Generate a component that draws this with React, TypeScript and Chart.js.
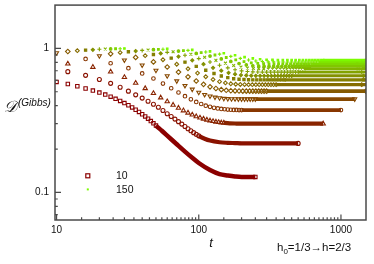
import React, { useEffect, useRef } from "react";
import { Chart, registerables } from "chart.js";
Chart.register(...registerables);

// scaled time u = t / L (sampling grid of every series)
const uGrid = [0.2,0.4,0.6,0.8,1.0,1.2,1.4,1.6,1.8,2.0,2.2,2.4,2.6,2.8,3.0,3.2,3.4,3.6,3.8,4.0,4.2,4.4,4.6,4.8,5.0,5.5,6,7,8,9,10,12,14,16,18,20,22.5,25];
const sizes = [10,20,30,40,50,60,70,80,90,100,110,120,130,140,150];

const d10 = [null,null,null,null,0.585,0.566,0.546,0.527,0.51,0.494,0.478,0.462,0.447,0.432,0.417,0.403,0.389,0.375,0.362,0.349,0.337,0.325,0.313,0.302,0.291,0.268,0.248,0.216,0.192,0.174,0.16,0.143,0.134,0.131,0.129,0.128,0.128,0.128];
const d20 = [null,null,0.69,0.65,0.608,0.572,0.537,0.505,0.476,0.452,0.43,0.41,0.39,0.371,0.352,0.337,0.323,0.31,0.298,0.287,0.277,0.268,0.26,0.253,0.247,0.236,0.229,0.223,0.221,0.22,0.219,0.219,0.219,0.219,0.219,0.219,0.219,0.219];
const d30 = [null,0.783,0.742,0.688,0.63,0.575,0.528,0.488,0.455,0.428,0.405,0.386,0.37,0.357,0.346,0.337,0.33,0.324,0.319,0.315,0.312,0.309,0.307,0.305,0.304,0.302,0.301,0.3,0.3,0.3,0.3,0.3,0.3,0.3,0.3,0.3,0.3,0.3];
const d40 = [null,0.845,0.789,0.729,0.671,0.618,0.57,0.529,0.494,0.466,0.443,0.425,0.411,0.4,0.393,0.387,0.383,0.38,0.378,0.376,0.375,0.374,0.374,0.373,0.373,0.373,0.373,0.373,0.373,0.373,0.373,0.373,0.373,0.373,0.373,0.373,0.373,0.373];
const d50 = [0.931,0.888,0.83,0.766,0.703,0.644,0.594,0.552,0.52,0.495,0.478,0.466,0.458,0.453,0.449,0.447,0.446,0.446,0.445,0.445,0.445,0.445,0.445,0.445,0.445,0.445,0.445,0.445,0.445,0.445,0.445,0.445,0.445,0.445,0.445,0.445,0.445,0.445];
const d60 = [0.952,0.917,0.866,0.806,0.743,0.685,0.635,0.594,0.563,0.541,0.527,0.517,0.512,0.508,0.507,0.506,0.505,0.505,0.505,0.505,0.505,0.505,0.505,0.505,0.505,0.505,0.505,0.505,0.505,0.505,0.505,0.505,0.505,0.505,0.505,0.505,0.505,0.505];
const d70 = [0.965,0.936,0.891,0.835,0.777,0.722,0.674,0.636,0.608,0.588,0.576,0.568,0.564,0.562,0.561,0.56,0.56,0.56,0.56,0.56,0.56,0.56,0.56,0.56,0.56,0.56,0.56,0.56,0.56,0.56,0.56,0.56,0.56,0.56,0.56,0.56,0.56,0.56];
const d80 = [0.973,0.948,0.908,0.857,0.803,0.75,0.705,0.67,0.644,0.627,0.616,0.611,0.608,0.606,0.605,0.605,0.605,0.605,0.605,0.605,0.605,0.605,0.605,0.605,0.605,0.605,0.605,0.605,0.605,0.605,0.605,0.605,0.605,0.605,0.605,0.605,0.605,0.605];
const d90 = [0.979,0.959,0.924,0.878,0.827,0.777,0.734,0.701,0.677,0.662,0.653,0.649,0.647,0.646,0.645,0.645,0.645,0.645,0.645,0.645,0.645,0.645,0.645,0.645,0.645,0.645,0.645,0.645,0.645,0.645,0.645,0.645,0.645,0.645,0.645,0.645,0.645,0.645];
const d100 = [0.986,0.969,0.939,0.897,0.85,0.804,0.764,0.733,0.711,0.698,0.691,0.687,0.686,0.685,0.685,0.685,0.685,0.685,0.685,0.685,0.685,0.685,0.685,0.685,0.685,0.685,0.685,0.685,0.685,0.685,0.685,0.685,0.685,0.685,0.685,0.685,0.685,0.685];
const d110 = [0.99,0.976,0.949,0.912,0.869,0.826,0.79,0.761,0.742,0.731,0.725,0.722,0.721,0.72,0.72,0.72,0.72,0.72,0.72,0.72,0.72,0.72,0.72,0.72,0.72,0.72,0.72,0.72,0.72,0.72,0.72,0.72,0.72,0.72,0.72,0.72,0.72,0.72];
const d120 = [0.992,0.981,0.958,0.924,0.885,0.846,0.812,0.786,0.768,0.758,0.753,0.751,0.75,0.75,0.75,0.75,0.75,0.75,0.75,0.75,0.75,0.75,0.75,0.75,0.75,0.75,0.75,0.75,0.75,0.75,0.75,0.75,0.75,0.75,0.75,0.75,0.75,0.75];
const d130 = [0.995,0.985,0.965,0.935,0.9,0.865,0.834,0.811,0.795,0.787,0.783,0.781,0.78,0.78,0.78,0.78,0.78,0.78,0.78,0.78,0.78,0.78,0.78,0.78,0.78,0.78,0.78,0.78,0.78,0.78,0.78,0.78,0.78,0.78,0.78,0.78,0.78,0.78];
const d140 = [0.996,0.988,0.97,0.944,0.913,0.881,0.853,0.832,0.818,0.811,0.807,0.806,0.805,0.805,0.805,0.805,0.805,0.805,0.805,0.805,0.805,0.805,0.805,0.805,0.805,0.805,0.805,0.805,0.805,0.805,0.805,0.805,0.805,0.805,0.805,0.805,0.805,0.805];
const d150 = [0.999,0.992,0.977,0.954,0.926,0.897,0.871,0.853,0.841,0.834,0.832,0.83,0.83,0.83,0.83,0.83,0.83,0.83,0.83,0.83,0.83,0.83,0.83,0.83,0.83,0.83,0.83,0.83,0.83,0.83,0.83,0.83,0.83,0.83,0.83,0.83,0.83,0.83];
const series = [d10,d20,d30,d40,d50,d60,d70,d80,d90,d100,d110,d120,d130,d140,d150];

const xMajor = [10, 100, 1000];
const xMajorLabels = ["10", "100", "1000"];
const xMinor = [15,20,25,30,35,40,45,50,55,60,65,70,75,80,85,90,95,150,200,250,300,350,400,450,500,550,600,650,700,750,800,850,900,950];
const yMajor = [0.1, 1];
const yMajorLabels = ["0.1", "1"];
const yMinor = [0.07,0.08,0.09,0.2,0.3,0.4,0.5,0.6,0.7,0.8,0.9];
const legendEntries = ["10", "150"];

const colors = ["#8b0000","#8a1200","#892400","#883600","#874800","#865a00","#856c00","#847e00","#839000","#82a200","#81b400","#80c600","#7fd800","#7eea00","#7cfc00"];
const pointStyles = ["rect","circle","triangle","circle","triangle","rectRot","rectRot","rect","rectRot","cross","crossRot","circle","rect","cross","rect"];
const rotations = [0,0,0,0,180,0,0,0,0,0,0,0,0,0,0];
const radii = [2.4,2.0,2.5,1.8,2.3,2.3,1.9,1.6,1.6,2.0,2.0,1.3,1.2,1.7,1.1];
const filled = [false,false,false,false,false,false,false,true,true,false,false,true,true,false,true];
const bandWidths = [4.5,4.2,4.2,3.8,3.8,3.6,3.3,3.2,3,2.8,2.8,2.8,2.5,2.5,2.5];

const FONT = '"Liberation Sans", Arial, sans-serif';

const framePlugin = {
  id: "frameAndText",
  afterDraw(chart: any) {
    const { ctx, chartArea: a, scales } = chart;
    const xs = scales.x, ys = scales.y;
    ctx.save();
    ctx.strokeStyle = "#4a4a4a";
    ctx.lineWidth = 1.5;
    ctx.strokeRect(a.left, a.top, a.right - a.left, a.bottom - a.top);
    ctx.lineWidth = 1.2;
    ctx.beginPath();
    for (const v of xMajor) {
      const px = xs.getPixelForValue(v);
      ctx.moveTo(px, a.bottom); ctx.lineTo(px, a.bottom - 5.5);
    }
    for (const v of xMinor) {
      const px = xs.getPixelForValue(v);
      ctx.moveTo(px, a.bottom); ctx.lineTo(px, a.bottom - 2.8);
    }
    for (const v of yMajor) {
      const py = ys.getPixelForValue(v);
      ctx.moveTo(a.left, py); ctx.lineTo(a.left + 6, py);
    }
    for (const v of yMinor) {
      const py = ys.getPixelForValue(v);
      ctx.moveTo(a.left, py); ctx.lineTo(a.left + 2.8, py);
    }
    ctx.stroke();

    ctx.fillStyle = "#111";
    ctx.font = "10px " + FONT;
    ctx.textBaseline = "middle";
    ctx.textAlign = "center";
    xMajor.forEach((v, i) => ctx.fillText(xMajorLabels[i], xs.getPixelForValue(v), a.bottom + 10));
    ctx.textAlign = "right";
    yMajor.forEach((v, i) => ctx.fillText(yMajorLabels[i], a.left - 6, ys.getPixelForValue(v)));

    // legend
    ctx.strokeStyle = colors[0];
    ctx.lineWidth = 1.2;
    ctx.strokeRect(85.8, 173.8, 4, 4);
    ctx.fillStyle = colors[14];
    ctx.fillRect(86.8, 188.4, 2, 2);
    ctx.fillStyle = "#111";
    ctx.font = "10.5px " + FONT;
    ctx.textAlign = "left";
    ctx.fillText(legendEntries[0], 116, 176.5);
    ctx.fillText(legendEntries[1], 116, 190.5);

    // axis titles
    ctx.textBaseline = "alphabetic";
    ctx.font = 'italic 16px "DejaVu Serif", serif';
    ctx.fillText("\u{1D49F}", 4, 112);
    ctx.font = "italic 10px " + FONT;
    ctx.fillText("(Gibbs)", 18, 106);
    ctx.font = "italic 13px " + FONT;
    ctx.textAlign = "center";
    ctx.fillText("t", 211, 247);

    // annotation h0=1/3 -> h=2/3
    ctx.textAlign = "left";
    ctx.font = "11.5px " + FONT;
    let x = 277;
    ctx.fillText("h", x, 251);
    x += ctx.measureText("h").width;
    ctx.font = "8px " + FONT;
    ctx.fillText("0", x, 254);
    x += ctx.measureText("0").width;
    ctx.font = "11.5px " + FONT;
    ctx.fillText("=1/3\u2192h=2/3", x, 251);
    ctx.restore();
  },
};

export default function App() {
  const ref = useRef<HTMLCanvasElement | null>(null);
  useEffect(() => {
    document.body.style.margin = "0";
    const canvas = ref.current;
    if (!canvas) return;
    const datasets = sizes.map((L, i) => {
      const vals = series[i];
      const data = uGrid.map((u, k) => ({ x: u * L, y: vals[k] }));
      let last = -1;
      uGrid.forEach((u, k) => { if (vals[k] != null && u * L <= 1500) last = k; });
      const color = colors[i];
      return {
        label: String(L),
        data,
        showLine: true,
        borderColor: color,
        borderWidth: bandWidths[i],
        segment: {
          borderColor: (c: any) => (c.p0DataIndex >= 24 ? color : "rgba(0,0,0,0)"),
        },
        pointStyle: pointStyles[i],
        rotation: rotations[i],
        pointRadius: (c: any) => (c.dataIndex <= 24 || c.dataIndex === last ? radii[i] : 0),
        pointBorderColor: color,
        pointBackgroundColor: filled[i] ? color : "rgba(255,255,255,0)",
        pointBorderWidth: 1.1,
        cubicInterpolationMode: "monotone",
        spanGaps: false,
        clip: 0,
      };
    });
    const chart = new Chart(canvas, {
      type: "scatter",
      data: { datasets },
      options: {
        animation: false,
        responsive: false,
        devicePixelRatio: 1,
        events: [],
        layout: { padding: { left: 55, right: 8, top: 5, bottom: 44 } },
        scales: {
          x: { type: "logarithmic", min: 9.75, max: 1500, display: false },
          y: { type: "logarithmic", min: 0.0643, max: 2.0, display: false },
        },
        plugins: { legend: { display: false }, tooltip: { enabled: false } },
      },
      plugins: [framePlugin],
    } as any);
    return () => chart.destroy();
  }, []);
  return (
    <div style={{ width: 374, height: 264, background: "#fff" }}>
      <canvas ref={ref} width={374} height={264} style={{ display: "block" }} />
    </div>
  );
}
